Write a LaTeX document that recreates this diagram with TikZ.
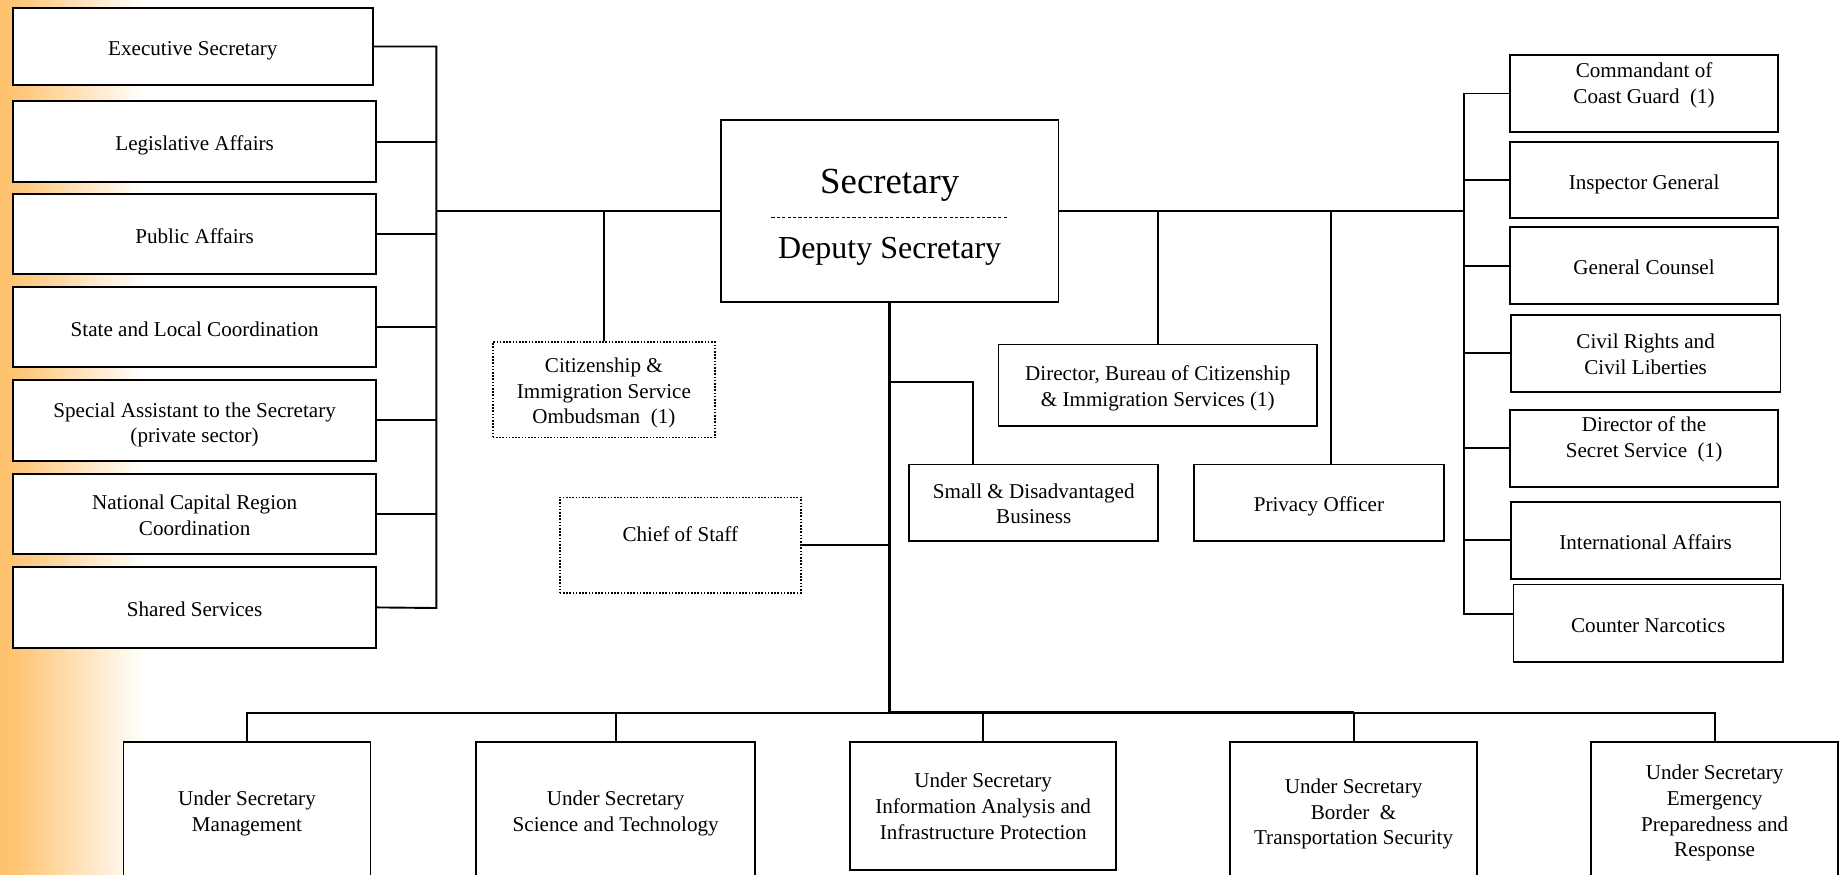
\documentclass[tikz,border=0pt]{standalone}
\usepackage{fontspec}
\setmainfont{Liberation Serif}
\usetikzlibrary{calc}
\definecolor{og}{RGB}{255,195,112}
\newcommand{\topstrut}{\rule{0pt}{12.4pt}}
\newcommand{\botstrut}{\rule[-3.2pt]{0pt}{0pt}}
\begin{document}
\begin{tikzpicture}[x=0.58801pt,y=-0.58801pt,
  txt/.style={font=\fontsize{10.55}{12.9}\selectfont, align=center, execute at begin node=\topstrut, execute at end node=\botstrut},
  box/.style={txt, draw=black, line width=0.9pt, fill=white, inner sep=0pt},
  bx/.style n args={4}{box, minimum width={(#3-#1)*0.58801pt}, minimum height={(#4-#2)*0.58801pt}, at={({(#1+#3)/2},{(#2+#4)/2})}},
  lbl/.style={txt, inner sep=0pt},
  ml/.style 2 args={label={[lbl, yshift=#1]center:#2}},
  dotted box/.style={line width=0.8pt, dash pattern=on 0.8pt off 0.8pt},
  conn/.style={line width=0.95pt},
  spine/.style={line width=1.5pt}]
\clip (0,0) rectangle (1568,744);
\fill[og] (0,0) rectangle (10,744);
\shade[left color=og, right color=white] (10,0) rectangle (122,744);

% left column
\node[bx={11}{7}{317}{72}] (exec) {Executive Secretary};
\node[bx={11}{86}{320}{155}] (leg) {Legislative Affairs};
\node[bx={11}{165}{320}{233}] (pub) {Public Affairs};
\node[bx={11}{244}{320}{312}] (slc) {State and Local Coordination};
\node[bx={11}{323}{320}{392}, ml={-2.7pt}{Special Assistant to the Secretary\\(private sector)}] (spa) {};
\node[bx={11}{403}{320}{471}, ml={-2.4pt}{National Capital Region\\Coordination}] (ncr) {};
\node[bx={11}{482}{320}{551}] (shs) {Shared Services};

% secretary
\node[bx={613}{102}{900}{257}] (sec) {};
\node[font=\fontsize{18.4}{22}\selectfont, anchor=base, inner sep=0pt] (sect) at (756.5,164.4) {Secretary};
\node[font=\fontsize{16}{19}\selectfont, anchor=base, inner sep=0pt] (dept) at (756.5,219.7) {Deputy Secretary};
\draw[line width=0.5pt, dash pattern=on 1.6pt off 1.1pt] (656,184.8) -- (857,184.8);

% middle
\node[bx={419}{291}{608}{372}, dotted box, ml={-2.1pt}{Citizenship \&\\Immigration Service\\Ombudsman\ \ (1)}] (omb) {};
\node[bx={476}{423}{681}{504}, dotted box, ml={6.2pt}{Chief of Staff}] (cos) {};
\node[bx={773}{395}{985}{460}, ml={-2.1pt}{Small \& Disadvantaged\\Business}] (sdb) {};
\node[bx={849}{293}{1120}{362}, ml={-2.1pt}{Director, Bureau of Citizenship\\\& Immigration Services (1)}] (dbc) {};
\node[bx={1015}{395}{1228}{460}] (prv) {Privacy Officer};

% right column
\node[bx={1284}{47}{1512}{112}, ml={3.8pt}{Commandant of\\Coast Guard\ \ (1)}] (cmd) {};
\node[bx={1284}{120.5}{1512}{185.6}] (ig) {Inspector General};
\node[bx={1284}{193.3}{1512}{258.5}] (gc) {General Counsel};
\node[bx={1284.6}{268}{1514}{333}, ml={-1.8pt}{Civil Rights and\\Civil Liberties}] (cr) {};
\node[bx={1284}{348.6}{1512}{413.8}, ml={4.1pt}{Director of the\\Secret Service\ \ (1)}] (dss) {};
\node[bx={1284.6}{426.6}{1514}{492.4}] (ia) {International Affairs};
\node[bx={1287}{497}{1516}{562.6}] (cn) {Counter Narcotics};

% bottom row
\node[bx={105}{631}{315}{750}, ml={-1.0pt}{Under Secretary\\Management}] (mgmt) {};
\node[bx={405}{631}{642}{750}, ml={-1.0pt}{Under Secretary\\Science and Technology}] (sci) {};
\node[bx={723}{631}{949}{740}, ml={-1.5pt}{Under Secretary\\Information Analysis and\\Infrastructure Protection}] (iaip) {};
\node[bx={1046}{631}{1256}{750}, ml={-1.5pt}{Under Secretary\\Border\ \ \&\\Transportation Security}] (bts) {};
\node[bx={1353}{631}{1563}{750}, ml={-1.0pt}{Under Secretary\\Emergency\\Preparedness and\\Response}] (epr) {};

% connectors left
\coordinate (lbB) at (371,517);
\draw[conn] (exec.east) -| (lbB) -- (shs.east);
\foreach \n in {leg,pub,slc,spa,ncr} \draw[conn] (\n.east) -- (\n.east -| lbB);
\draw[conn] (sec.west) -- (sec.west -| lbB);

% connectors right
\coordinate (rbB) at (1245,522);
\draw[conn] (cmd.west) -| (rbB) -- (rbB -| cn.west);
\foreach \n in {ig,gc,cr,dss,ia} \draw[conn] (\n.west) -- (\n.west -| rbB);
\draw[conn] (sec.east) -- (sec.east -| rbB);

% connectors middle
\draw[conn] (omb.north) -- (omb.north |- sec.west);
\draw[conn] (dbc.north) -- (dbc.north |- sec.east);
\draw[conn] ($(prv.north)+(10,0)$) -- ($(prv.north |- sec.east)+(10,0)$);
\coordinate (spB) at (757,606);
\draw[spine] (sec.south) -- (sec.south |- spB);
\coordinate (sdbT) at (827,325);
\draw[conn] (sec.south |- sdbT) -- (sdbT) -- (sdbT |- sdb.north);
\draw[conn] (cos.east) -- (cos.east -| sec.south);

% connectors bottom
\draw[conn] (mgmt.north) |- (epr.north |- spB) -- (epr.north);
\draw[spine] (sec.south |- spB) -- (bts.north |- spB);
\foreach \n in {sci,iaip,bts} \draw[conn] (\n.north) -- (\n.north |- spB);
\end{tikzpicture}
\end{document}
